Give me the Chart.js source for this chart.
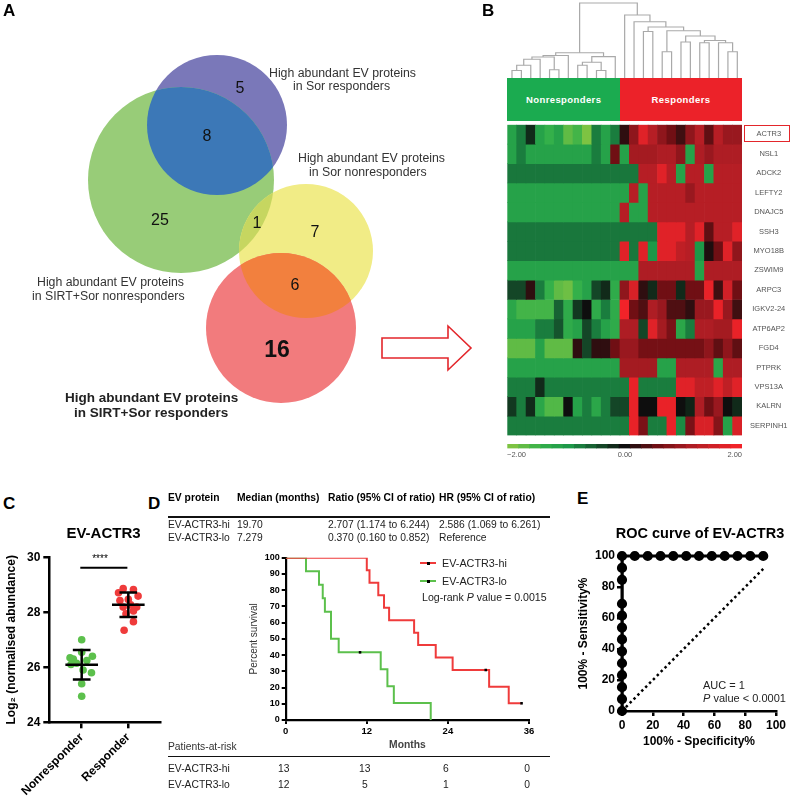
<!DOCTYPE html>
<html>
<head>
<meta charset="utf-8">
<script src="https://cdn.jsdelivr.net/npm/chart.js@4"></script>
<style>
  body { margin: 0; background: #fff; width: 791px; height: 802px; overflow: hidden; position: relative;
         font-family: 'Liberation Sans', Arial, sans-serif; }
  canvas { position: absolute; }
  .t { position: absolute; white-space: nowrap; line-height: 1; color: #222; }
  .rule { position: absolute; background: #111; }
</style>
</head>
<body>
<canvas id="venn" width="480" height="420" style="left:0;top:0"></canvas>
<canvas id="dendro" width="250" height="80" style="left:500px;top:0"></canvas>
<canvas id="heat" width="291" height="320" style="left:500px;top:120px"></canvas>
<canvas id="cbar" width="250" height="12" style="left:500px;top:440px"></canvas>
<canvas id="dot" width="175" height="282" style="left:0;top:520px"></canvas>
<canvas id="km" width="306" height="215" style="left:244px;top:540px"></canvas>
<canvas id="roc" width="219" height="213" style="left:572px;top:540px"></canvas>
<svg width="100" height="50" style="position:absolute;left:375px;top:323px">
  <polygon points="7,15 73,15 73,3 96,25 73,47 73,35 7,35" fill="#fff" stroke="#e3262b" stroke-width="1.6"/>
</svg>
<div style="position:absolute;left:744px;top:125px;width:46px;height:17px;box-sizing:border-box;border:1.6px solid #e3262b"></div>

<script>
// ---- A: Venn (scales are 1 unit = 1 px)
const vennX = [217, 181, 306, 281];
const vennY = [125, 180, 251, 328];
const vennR = [70, 93, 67, 75];
const vennColors = ['#7a78b9', '#98cc78', '#f1ec86', '#f27b7d'];
const vennOverlaps = [[0, 1, '#3c78b7'], [1, 2, '#c6d660'], [2, 3, '#f2803e']];

// ---- B: heatmap
const genes = ['ACTR3', 'NSL1', 'ADCK2', 'LEFTY2', 'DNAJC5', 'SSH3', 'MYO18B', 'ZSWIM9',
  'ARPC3', 'IGKV2-24', 'ATP6AP2', 'FGD4', 'PTPRK', 'VPS13A', 'KALRN', 'SERPINH1'];
const sampleIds = ['N1','N2','N3','N4','N5','N6','N7','N8','N9','N10','N11','N12',
  'R1','R2','R3','R4','R5','R6','R7','R8','R9','R10','R11','R12','R13'];
const heatValues = [
  [-1.2,-0.8,-0.2,-1.2,-1.5,-1.2,-1.8,-1.6,-2.0,-0.8,-1.2,-0.8, 0.2,0.9,1.8,1.3,0.9,0.6,0.3,0.9,1.3,0.5,1.3,1.0,1.0],
  [-1.2,-0.8,-1.2,-1.2,-1.2,-1.2,-1.2,-1.2,-1.2,-0.8,-1.2,0.6, -1.2,1.1,1.1,1.1,1.2,1.2,0.9,-1.2,1.2,1.0,1.2,1.2,1.2],
  [-0.75,-0.75,-0.75,-0.75,-0.75,-0.75,-0.75,-0.75,-0.75,-0.75,-0.75,-0.75, -0.75,-0.75,1.3,1.3,1.8,1.3,-1.2,1.3,1.3,-1.2,1.3,1.3,1.3],
  [-1.2,-1.2,-1.2,-1.2,-1.2,-1.2,-1.2,-1.2,-1.2,-1.2,-1.2,-1.2, -1.2,1.3,-1.2,1.3,1.3,1.3,1.3,1.0,1.3,1.3,1.3,1.3,1.3],
  [-1.2,-1.2,-1.2,-1.2,-1.2,-1.2,-1.2,-1.2,-1.2,-1.2,-1.2,-1.2, 1.3,-1.2,-1.2,1.3,1.3,1.3,1.3,1.3,1.3,1.3,1.3,1.3,1.3],
  [-0.75,-0.75,-0.75,-0.75,-0.75,-0.75,-0.75,-0.75,-0.75,-0.75,-0.75,-0.75, -0.75,-0.75,-0.75,-0.75,1.8,1.8,1.8,1.3,1.8,0.5,1.3,1.3,1.8],
  [-0.75,-0.75,-0.75,-0.75,-0.75,-0.75,-0.75,-0.75,-0.75,-0.75,-0.75,-0.75, 1.8,-0.75,1.8,-1.0,1.8,1.8,1.4,1.3,-1.0,0.1,0.6,1.8,0.9],
  [-1.2,-1.2,-1.2,-1.2,-1.2,-1.2,-1.2,-1.2,-1.2,-1.2,-1.2,-1.2, -1.2,-1.2,1.2,1.2,1.2,1.2,1.2,1.2,-1.2,1.2,1.2,1.2,1.2],
  [-0.4,-0.4,0.2,-0.8,-1.5,-1.8,-1.9,-1.5,-1.2,-0.4,-0.2,-1.4, 0.9,1.7,0.2,-0.2,0.6,0.6,-0.2,0.6,0.6,1.9,0.3,1.6,0.6],
  [-1.3,-1.6,-1.6,-1.6,-1.6,-0.6,-1.4,-0.3,0.0,-1.4,-0.8,-1.4, 2.0,0.6,0.4,1.2,1.0,0.4,0.4,0.2,1.0,1.0,1.9,1.0,0.3],
  [-1.2,-1.2,-1.2,-0.8,-0.8,-0.5,-1.4,-1.2,-0.4,-0.8,-1.2,-1.4, 1.2,1.2,-0.4,1.8,1.1,0.7,-1.3,-0.8,1.2,1.2,1.1,1.1,1.9],
  [-1.8,-1.8,-1.8,-1.2,-1.8,-1.8,-1.8,0.2,-0.4,0.2,0.2,0.6, 1.0,1.0,0.65,0.65,0.65,0.65,0.65,0.65,0.65,0.9,0.5,0.9,0.5],
  [-1.2,-1.2,-1.2,-1.2,-1.2,-1.2,-1.2,-1.2,-1.2,-1.2,-1.2,-1.2, 1.1,1.1,1.1,1.1,-1.2,-1.2,1.2,1.2,1.2,1.2,-1.3,1.2,1.2],
  [-0.8,-0.8,-0.8,-0.2,-0.8,-0.8,-0.8,-0.8,-0.8,-0.8,-0.8,-0.8, -0.8,1.9,-0.8,-0.8,-0.8,-0.8,1.8,1.8,1.4,1.4,1.8,1.4,1.8],
  [-0.3,-0.8,-0.2,-1.3,-1.7,-1.7,0.0,-1.2,-0.8,-1.3,-0.8,-0.4, -0.4,1.9,0.0,0.0,1.9,1.9,0.0,-0.15,1.2,0.6,1.0,0.0,-0.2],
  [-0.8,-0.8,-0.8,-0.8,-0.8,-0.8,-0.8,-0.8,-0.8,-0.8,-0.8,-0.8, -0.8,1.9,0.7,-0.8,-0.8,1.9,-0.9,0.7,1.7,1.7,0.8,-1.2,1.7]
];
// dendrogram merges [a, b, height]; new node ids start at 25
const dendroMerges = [
  [0,1,0.10],[25,2,0.17],[26,3,0.25],[4,5,0.11],[27,28,0.28],[29,6,0.30],
  [7,8,0.17],[9,10,0.10],[31,32,0.21],[33,11,0.286],[30,34,0.337],
  [16,17,0.35],[18,19,0.48],[20,21,0.47],[23,24,0.35],[22,39,0.47],[38,40,0.50],
  [37,41,0.56],[36,42,0.63],[14,15,0.62],[44,43,0.68],[13,45,0.75],[12,46,0.84],
  [35,47,1.0]
];
const cbarSteps = [-2,-1.8,-1.6,-1.4,-1.2,-1,-0.8,-0.6,-0.4,-0.2,0,0.2,0.4,0.6,0.8,1,1.2,1.4,1.6,1.8,2];

// ---- C: dot plot
const groups = ['Nonresponder', 'Responder'];
const nonresp = [27.0, 26.55, 26.35, 26.4, 26.3, 26.25, 26.15, 26.1, 25.9, 25.8, 25.4, 24.95];
const nonrespJit = [0, 0, -0.25, 0.23, -0.18, 0.11, -0.11, -0.23, 0.03, 0.21, 0, 0];
const resp = [28.86, 28.83, 28.71, 28.59, 28.47, 28.43, 28.27, 28.19, 28.19, 28.05, 27.95, 27.66, 27.35];
const respJit = [-0.11, 0.11, -0.21, 0.21, 0, -0.18, 0.05, -0.11, 0.18, 0.11, -0.05, 0.11, -0.09];
const sigLevel = 29.62;

// ---- D: Kaplan-Meier
const hiTimes = [0, 12.0, 12.4, 13.7, 14.55, 15.3, 19.0, 19.6, 22.2, 24.7, 30.1, 33.0, 34.9];
const hiSurv = [100, 92.3, 84.6, 76.9, 69.2, 61.5, 53.8, 46.2, 38.5, 30.8, 20.5, 10.3, 10.3];
const hiCensorT = [29.6, 34.9];
const hiCensorS = [30.8, 10.3];
const loTimes = [0, 3.0, 4.93, 5.48, 5.8, 6.7, 7.84, 14.06, 15.05, 16.0, 21.46];
const loSurv = [100, 91.7, 83.3, 75, 66.7, 50, 41.7, 31.3, 20.8, 10.4, 0];
const loCensorT = [11.0];
const loCensorS = [41.7];
const riskMonths = [0, 12, 24, 36];
const riskHi = [13, 13, 6, 0];
const riskLo = [12, 5, 1, 0];

// ---- E: ROC
const rocX = [0,0,0,0,0,0,0,0,0,0,0,0,0, 8.3,16.7,25,33.3,41.7,50,58.3,66.7,75,83.3,91.7];
const rocY = [0,7.7,15.4,23.1,30.8,38.5,46.2,53.8,61.5,69.2,84.6,92.3,100, 100,100,100,100,100,100,100,100,100,100,100];
const refLine = [0, 91.7];

const RED = '#ef3b3b', GREEN = '#5cc04c';
Chart.defaults.font.family = "'Liberation Sans', Arial, sans-serif";
Chart.defaults.color = '#000';
Chart.defaults.animation = false;
Chart.defaults.responsive = false;
Chart.defaults.events = [];
Chart.defaults.layout.autoPadding = false;
Chart.defaults.plugins.legend.display = false;
Chart.defaults.plugins.tooltip.enabled = false;

function txt(s, x, y, o = {}) {
  const d = document.createElement('div');
  d.className = 't';
  d.innerHTML = s;
  d.style.left = x + 'px';
  d.style.top = y + 'px';
  d.style.fontSize = (o.size || 10.3) + 'px';
  if (o.bold) d.style.fontWeight = 'bold';
  if (o.color) d.style.color = o.color;
  if (o.ls) d.style.letterSpacing = o.ls + 'px';
  const ax = o.align === 'center' ? '-50%' : o.align === 'right' ? '-100%' : '0';
  d.style.transform = 'translate(' + ax + ',-50%)';
  document.body.appendChild(d);
}
function rule(x, y, w, h) {
  const d = document.createElement('div');
  d.className = 'rule';
  Object.assign(d.style, { left: x + 'px', top: y + 'px', width: w + 'px', height: h + 'px' });
  document.body.appendChild(d);
}
function heatColor(v) {
  const st = [[-2,[125,195,66]],[-1.5,[52,176,74]],[-1,[29,152,72]],[-0.7,[24,112,57]],
    [0,[14,14,14]],[0.6,[112,15,20]],[1.2,[174,29,36]],[2,[241,35,41]]];
  v = Math.max(-2, Math.min(2, v));
  for (let i = 1; i < st.length; i++) {
    if (v <= st[i][0]) {
      const t = (v - st[i-1][0]) / (st[i][0] - st[i-1][0]);
      const c = st[i-1][1].map((a, k) => Math.round(a + (st[i][1][k] - a) * t));
      return 'rgb(' + c.join(',') + ')';
    }
  }
}
const fixW = w => a => { a.width = w; };
const fixH = h => a => { a.height = h; };
const tickGrid = (len, lw) => ({ drawOnChartArea: false, drawTicks: true, tickLength: len, color: '#000', lineWidth: lw });

// panel letters
txt('A', 3, 10, { size: 17, bold: true, color: '#000' });
txt('B', 482, 10, { size: 17, bold: true, color: '#000' });
txt('C', 3, 503, { size: 17, bold: true, color: '#000' });
txt('D', 148, 503, { size: 17, bold: true, color: '#000' });
txt('E', 577, 498, { size: 17, bold: true, color: '#000' });

// ---------- A
new Chart(document.getElementById('venn'), {
  type: 'bubble',
  data: { datasets: [{
    data: vennX.map((x, i) => ({ x: x, y: vennY[i], r: vennR[i] })),
    backgroundColor: vennColors, borderWidth: 0, clip: false
  }] },
  options: {
    layout: { padding: 0, autoPadding: false },
    scales: { x: { display: false, min: 0, max: 480 }, y: { display: false, min: 0, max: 420, reverse: true } }
  },
  plugins: [{
    id: 'overlaps',
    afterDatasetsDraw(chart) {
      const ctx = chart.ctx, pts = chart.getDatasetMeta(0).data;
      vennOverlaps.forEach(([i, j, col]) => {
        ctx.save();
        ctx.beginPath(); ctx.arc(pts[i].x, pts[i].y, pts[i].options.radius, 0, Math.PI * 2); ctx.clip();
        ctx.beginPath(); ctx.arc(pts[j].x, pts[j].y, pts[j].options.radius, 0, Math.PI * 2);
        ctx.fillStyle = col; ctx.fill();
        ctx.restore();
      });
    }
  }]
});
const vc = { size: 16, color: '#111', align: 'center' };
txt('5', 240, 88, vc); txt('8', 207, 136, vc); txt('25', 160, 220, vc);
txt('1', 257, 223, vc); txt('7', 315, 232, vc); txt('6', 295, 285, vc);
txt('16', 277, 349, { size: 23, bold: true, color: '#111', align: 'center' });
const vl = { size: 12.3, color: '#333' };
txt('High abundant EV proteins', 269, 73, vl); txt('in Sor responders', 293, 86, vl);
txt('High abundant EV proteins', 298, 158, vl); txt('in Sor nonresponders', 309, 172, vl);
txt('High abundant EV proteins', 37, 282, vl); txt('in SIRT+Sor nonresponders', 32, 296, vl);
txt('High abundant EV proteins', 65, 398, { size: 13.5, bold: true, color: '#222' });
txt('in SIRT+Sor responders', 74, 413, { size: 13.5, bold: true, color: '#222' });

// ---------- B dendrogram
const pos = [], hgt = [];
for (let i = 0; i < sampleIds.length; i++) { pos.push(i); hgt.push(0); }
const dendroSets = dendroMerges.map(([a, b, h]) => {
  const seg = [{ x: pos[a], y: hgt[a] }, { x: pos[a], y: h }, { x: pos[b], y: h }, { x: pos[b], y: hgt[b] }];
  pos.push((pos[a] + pos[b]) / 2); hgt.push(h);
  return { data: seg, showLine: true, borderColor: '#a9a9a9', borderWidth: 1.2, pointRadius: 0, clip: false };
});
new Chart(document.getElementById('dendro'), {
  type: 'scatter',
  data: { datasets: dendroSets },
  options: {
    layout: { padding: { left: 7.3, right: 8, top: 3, bottom: 2 } },
    scales: { x: { display: false, min: -0.5, max: sampleIds.length - 0.5 }, y: { display: false, min: 0, max: 1 } }
  }
});

// header bands
const hdr = document.createElement('div');
hdr.innerHTML = '<div style="position:absolute;left:507.3px;top:78.3px;width:112.8px;height:42.4px;background:#1bab50"></div>' +
  '<div style="position:absolute;left:620.1px;top:78.3px;width:122px;height:42.4px;background:#ec2229"></div>';
document.body.appendChild(hdr);
txt('Nonresponders', 563.7, 100, { size: 9.5, bold: true, color: '#fff', align: 'center', ls: 0.4 });
txt('Responders', 681, 100, { size: 9.5, bold: true, color: '#fff', align: 'center', ls: 0.4 });

// heatmap
new Chart(document.getElementById('heat'), {
  type: 'bar',
  data: {
    labels: sampleIds,
    datasets: genes.map((g, r) => ({
      label: g, data: sampleIds.map(() => 1), yAxisID: 'y',
      backgroundColor: heatValues[r].map(heatColor), borderWidth: 0,
      barPercentage: 1, categoryPercentage: 1
    }))
  },
  options: {
    layout: { padding: { left: 7.3, right: 0, top: 4.7, bottom: 4.4 } },
    scales: {
      x: { display: false, stacked: true },
      y: { display: false, stacked: true, min: 0, max: genes.length, reverse: true },
      y2: {
        type: 'category', labels: genes, position: 'right', offset: true,
        grid: { display: false }, border: { display: false },
        ticks: { font: { size: 7.5 }, color: '#555', crossAlign: 'center', padding: 0 },
        afterFit: fixW(49)
      }
    }
  }
});

// colour bar
new Chart(document.getElementById('cbar'), {
  type: 'bar',
  data: { labels: cbarSteps, datasets: [{ data: cbarSteps.map(() => 1), backgroundColor: cbarSteps.map(heatColor),
    borderWidth: 0, barPercentage: 1, categoryPercentage: 1 }] },
  options: {
    layout: { padding: { left: 7.3, right: 8, top: 4, bottom: 3.5 } },
    scales: { x: { display: false }, y: { display: false, min: 0, max: 1 } }
  }
});
txt('\u22122.00', 507, 455, { size: 7.5, color: '#555' });
txt('0.00', 625, 455, { size: 7.5, color: '#555', align: 'center' });
txt('2.00', 742, 455, { size: 7.5, color: '#555', align: 'right' });

// ---------- C
function meanSd(a) {
  const m = a.reduce((s, v) => s + v, 0) / a.length;
  const sd = Math.sqrt(a.reduce((s, v) => s + (v - m) * (v - m), 0) / (a.length - 1));
  return [m, sd];
}
const barSets = [];
[nonresp, resp].forEach((arr, g) => {
  const [m, s] = meanSd(arr);
  [[g - 0.35, m, g + 0.35, m], [g - 0.19, m + s, g + 0.19, m + s], [g - 0.19, m - s, g + 0.19, m - s], [g, m - s, g, m + s]]
    .forEach(([x1, y1, x2, y2]) => barSets.push({
      data: [{ x: x1, y: y1 }, { x: x2, y: y2 }], showLine: true, borderColor: '#000', borderWidth: 2.5, pointRadius: 0
    }));
});
barSets.push({ data: [{ x: -0.03, y: sigLevel }, { x: 0.98, y: sigLevel }], showLine: true, borderColor: '#000', borderWidth: 2, pointRadius: 0 });
new Chart(document.getElementById('dot'), {
  type: 'scatter',
  data: { datasets: barSets.concat([
    { data: nonresp.map((v, i) => ({ x: nonrespJit[i], y: v })), backgroundColor: GREEN, borderWidth: 0, pointRadius: 3.8, clip: false },
    { data: resp.map((v, i) => ({ x: 1 + respJit[i], y: v })), backgroundColor: RED, borderWidth: 0, pointRadius: 3.8, clip: false }
  ]) },
  options: {
    layout: { padding: { left: 0, right: 15, top: 37.3, bottom: 0 } },
    scales: {
      x: {
        type: 'linear', min: -0.695, max: 1.68,
        afterBuildTicks: a => { a.ticks = groups.map((g, i) => ({ value: i })); },
        ticks: { callback: (v, i) => groups[i], autoSkip: false, minRotation: 45, maxRotation: 45,
          font: { size: 12, weight: 'bold' }, color: '#000', padding: 2 },
        grid: tickGrid(6, 2.5), border: { color: '#000', width: 2.5 },
        afterFit: fixH(79.7)
      },
      y: {
        min: 24, max: 30,
        ticks: { stepSize: 2, font: { size: 12, weight: 'bold' }, color: '#000', padding: 3 },
        grid: tickGrid(6, 2.5), border: { color: '#000', width: 2.5 },
        title: { display: true, text: 'Log\u2082 (normalised abundance)', font: { size: 12, weight: 'bold' }, color: '#000' },
        afterFit: fixW(49.3)
      }
    }
  }
});
txt('EV-ACTR3', 103.5, 532, { size: 15, bold: true, color: '#000', align: 'center' });
txt('****', 100, 559, { size: 10, color: '#000', align: 'center' });

// ---------- D
txt('EV protein', 168, 498, { bold: true, color: '#000' });
txt('Median (months)', 237, 498, { bold: true, color: '#000' });
txt('Ratio (95% CI of ratio)', 328, 498, { bold: true, color: '#000' });
txt('HR (95% CI of ratio)', 439, 498, { bold: true, color: '#000' });
rule(168, 516, 382, 1.5);
txt('EV-ACTR3-hi', 168, 524.5); txt('19.70', 237, 524.5);
txt('2.707 (1.174 to 6.244)', 328, 524.5); txt('2.586 (1.069 to 6.261)', 439, 524.5);
txt('EV-ACTR3-lo', 168, 537.5); txt('7.279', 237, 537.5);
txt('0.370 (0.160 to 0.852)', 328, 537.5); txt('Reference', 439, 537.5);

const stepSet = (t, s, col) => ({ data: t.map((x, i) => ({ x: x, y: s[i] })), showLine: true, stepped: true,
  borderColor: col, borderWidth: 2, pointRadius: 0 });
const censorSet = (t, s) => ({ data: t.map((x, i) => ({ x: x, y: s[i] })), pointStyle: 'rect', pointRadius: 1.8,
  backgroundColor: '#000', borderWidth: 0, clip: false });
const km = new Chart(document.getElementById('km'), {
  type: 'scatter',
  data: { datasets: [censorSet(hiCensorT, hiCensorS), censorSet(loCensorT, loCensorS),
    stepSet(hiTimes, hiSurv, RED), stepSet(loTimes, loSurv, GREEN)] },
  options: {
    layout: { padding: { left: 0, right: 21, top: 17.7, bottom: 0 } },
    scales: {
      x: {
        min: 0, max: 36,
        ticks: { stepSize: 12, font: { size: 9.5, weight: 'bold' }, color: '#000', padding: 2 },
        grid: tickGrid(4, 2), border: { color: '#000', width: 2.2 },
        title: { display: true, text: 'Months', font: { size: 10.3, weight: 'bold' }, color: '#444', padding: { top: 2, bottom: 4 } },
        afterFit: fixH(35)
      },
      y: {
        min: 0, max: 100,
        ticks: { stepSize: 10, font: { size: 9, weight: 'bold' }, color: '#000', padding: 2 },
        grid: tickGrid(4, 2), border: { color: '#000', width: 2.2 },
        title: { display: true, text: 'Percent survival', font: { size: 10 }, color: '#333' },
        afterFit: fixW(41.7)
      }
    }
  }
});
// legend
const leg = document.createElement('div');
leg.innerHTML =
  '<div style="position:absolute;left:420px;top:562px;width:16px;height:2px;background:' + RED + '"></div>' +
  '<div style="position:absolute;left:427px;top:561.5px;width:3px;height:3px;background:#000"></div>' +
  '<div style="position:absolute;left:420px;top:580px;width:16px;height:2px;background:' + GREEN + '"></div>' +
  '<div style="position:absolute;left:427px;top:579.5px;width:3px;height:3px;background:#000"></div>';
document.body.appendChild(leg);
txt('EV-ACTR3-hi', 442, 563, { size: 10.8 });
txt('EV-ACTR3-lo', 442, 581, { size: 10.8 });
txt('Log-rank <i>P</i> value = 0.0015', 422, 597, { size: 10.6 });
// patients at risk
txt('Patients-at-risk', 168, 747, { color: '#333' });
rule(168, 755.5, 382, 1.2);
txt('EV-ACTR3-hi', 168, 768.5); txt('EV-ACTR3-lo', 168, 784.5);
riskMonths.forEach((m, i) => {
  const px = km.scales.x.getPixelForValue(m) + 244 - 2;
  txt(String(riskHi[i]), px, 768.5, { align: 'center' });
  txt(String(riskLo[i]), px, 784.5, { align: 'center' });
});

// ---------- E
new Chart(document.getElementById('roc'), {
  type: 'scatter',
  data: { datasets: [
    { data: rocX.map((x, i) => ({ x: x, y: rocY[i] })), showLine: true, borderColor: '#000', borderWidth: 3,
      backgroundColor: '#000', pointRadius: 3.6, borderJoinStyle: 'round', clip: false },
    { data: refLine.map(v => ({ x: v, y: v })), showLine: true, borderColor: '#000', borderWidth: 2.5,
      borderDash: [2.5, 3], pointRadius: 0 }
  ] },
  options: {
    layout: { padding: { left: 0, right: 15, top: 16, bottom: 0 } },
    scales: {
      x: {
        min: 0, max: 100,
        ticks: { stepSize: 20, font: { size: 12, weight: 'bold' }, color: '#000', padding: 2 },
        grid: tickGrid(5, 2.5), border: { color: '#000', width: 2.5 },
        title: { display: true, text: '100% - Specificity%', font: { size: 12, weight: 'bold' }, color: '#000', padding: { top: 2, bottom: 4 } },
        afterFit: fixH(42)
      },
      y: {
        min: 0, max: 100,
        ticks: { stepSize: 20, font: { size: 12, weight: 'bold' }, color: '#000', padding: 2 },
        grid: tickGrid(5, 2.5), border: { color: '#000', width: 2.5 },
        title: { display: true, text: '100% - Sensitivity%', font: { size: 12, weight: 'bold' }, color: '#000' },
        afterFit: fixW(50)
      }
    }
  }
});
txt('ROC curve of EV-ACTR3', 700, 533, { size: 14.5, bold: true, color: '#000', align: 'center' });
txt('AUC = 1', 703, 685, { size: 11 });
txt('<i>P</i> value &lt; 0.0001', 703, 697.5, { size: 11 });
</script>
</body>
</html>
